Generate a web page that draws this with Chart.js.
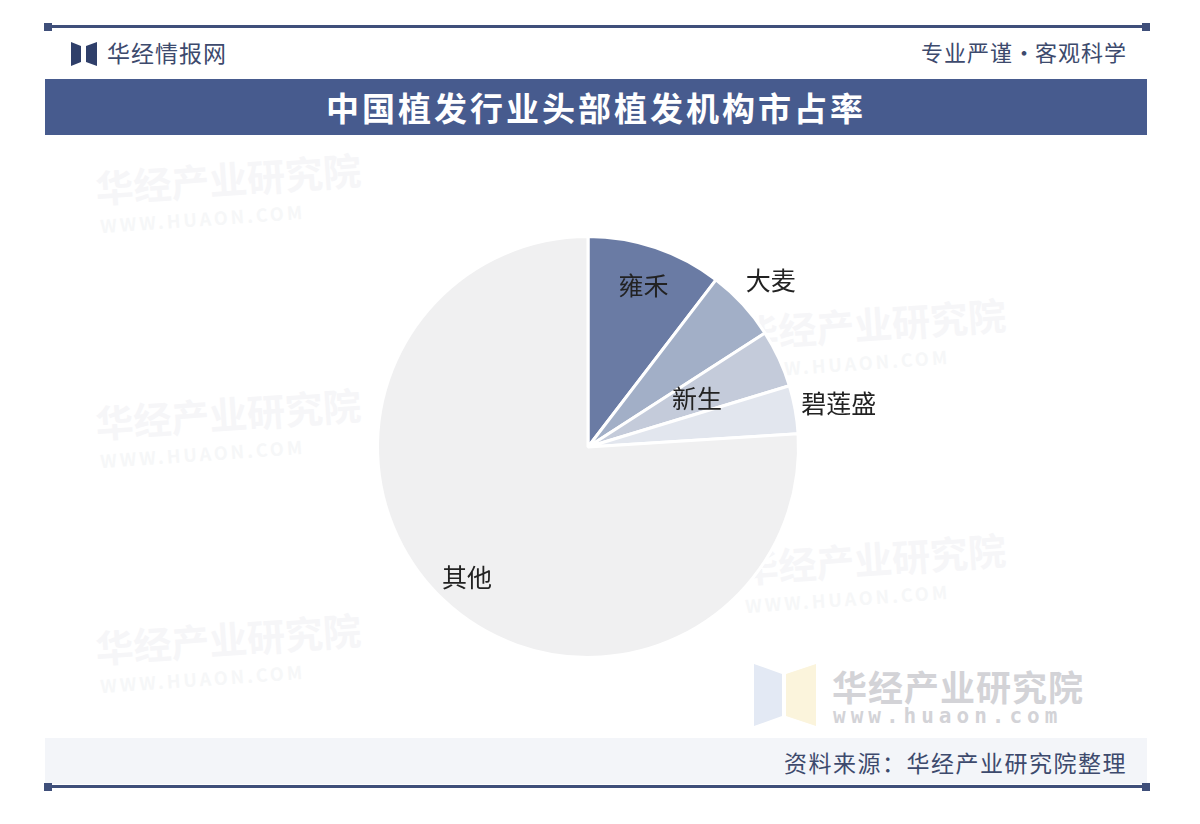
<!DOCTYPE html>
<html><head><meta charset="utf-8">
<script src="https://cdn.jsdelivr.net/npm/chart.js@4.4.1/dist/chart.umd.min.js"></script>
<style>
html,body{margin:0;padding:0;background:#fff;}
body{width:1200px;height:824px;position:relative;overflow:hidden;font-family:"Noto Sans CJK SC","Noto Sans",sans-serif;}
.abs{position:absolute;}
.line{position:absolute;left:47px;width:1100px;height:3px;background:#3f4f7a;}
.sq{position:absolute;width:8px;height:8px;background:#3f4f7a;}
.wm{position:absolute;color:#f6f6f8;font-weight:700;font-size:38px;transform:rotate(-4deg);white-space:nowrap;}
.wm2{position:absolute;color:#f6f7f8;font-weight:700;font-size:18px;letter-spacing:3px;transform:rotate(-4deg);white-space:nowrap;}
</style></head>
<body>
<div class="line" style="top:25px"></div>
<div class="sq" style="left:44px;top:23px"></div><div class="sq" style="left:1142px;top:23px"></div>
<svg class="abs" style="left:71px;top:42px" width="26" height="24" viewBox="0 0 26 24">
<polygon points="0,0 10,4 10,20 0,24" fill="#2f3f6a"/><polygon points="26,0 15,4 15,20 26,24" fill="#2f3f6a"/></svg>
<div class="abs" style="left:107px;top:35px;font-size:23px;color:#3d4a6d;letter-spacing:1px;">华经情报网</div>
<div class="abs" style="right:73px;top:35px;font-size:22px;color:#3d4a6d;letter-spacing:1px;">专业严谨<span style="letter-spacing:0">•</span>客观科学</div>
<div class="abs" style="left:45px;top:79px;width:1102px;height:56px;background:#475b8e;"></div>
<div class="abs" style="left:45px;top:79px;width:1102px;height:56px;line-height:56px;text-align:center;color:#fff;font-size:33px;font-weight:700;letter-spacing:3px;">中国植发行业头部植发机构市占率</div>

<div class="wm" style="left:95px;top:150px">华经产业研究院</div>
<div class="wm2" style="left:100px;top:205px">WWW.HUAON.COM</div>
<div class="wm" style="left:95px;top:385px">华经产业研究院</div>
<div class="wm2" style="left:100px;top:440px">WWW.HUAON.COM</div>
<div class="wm" style="left:95px;top:610px">华经产业研究院</div>
<div class="wm2" style="left:100px;top:665px">WWW.HUAON.COM</div>
<div class="wm" style="left:740px;top:295px">华经产业研究院</div>
<div class="wm2" style="left:745px;top:350px">WWW.HUAON.COM</div>
<div class="wm" style="left:740px;top:530px">华经产业研究院</div>
<div class="wm2" style="left:745px;top:585px">WWW.HUAON.COM</div>

<svg class="abs" style="left:754px;top:664px" width="62" height="62" viewBox="0 0 62 62">
<polygon points="0,0 28,10 28,52 0,62" fill="#e3e9f4"/><polygon points="62,0 32,10 32,52 62,62" fill="#fbf4dc"/></svg>
<div class="abs" style="left:832px;top:660px;font-size:35px;font-weight:700;color:#d3d3d7;letter-spacing:1px;">华经产业研究院</div>
<div class="abs" style="left:833px;top:704px;font-size:21px;font-weight:700;color:#d3d3d7;letter-spacing:5px;font-family:'DejaVu Sans Mono',monospace;">www.huaon.com</div>

<div class="abs" style="left:45px;top:738px;width:1102px;height:46px;background:#f3f5f9;"></div>
<div class="abs" style="right:73px;top:745px;font-size:23px;color:#3d4a6d;letter-spacing:1.5px;">资料来源：华经产业研究院整理</div>
<div class="line" style="top:785px"></div>
<div class="sq" style="left:44px;top:783px"></div><div class="sq" style="left:1142px;top:783px"></div>

<canvas id="c" class="abs" style="left:0;top:0" width="1200" height="824"></canvas>
<script>
const categories = ["雍禾", "大麦", "新生", "碧莲盛", "其他"];
const shares = [10.4, 5.5, 4.4, 3.7, 76.0];
const sliceColors = ["#6a7ba4", "#a2afc7", "#c4cbda", "#e2e6ee", "#f0f0f1"];
const labelRadius = [0.82, 1.18, 0.57, 1.21, 0.84];

const labelPlugin = {
  id: "sliceLabels",
  afterDatasetsDraw(chart) {
    const ctx = chart.ctx;
    const meta = chart.getDatasetMeta(0);
    ctx.save();
    ctx.font = '25px "Noto Sans CJK SC", sans-serif';
    ctx.fillStyle = "#222";
    ctx.textAlign = "center";
    ctx.textBaseline = "middle";
    meta.data.forEach((arc, i) => {
      const p = arc.getProps(["x","y","startAngle","endAngle","outerRadius"], true);
      const mid = (p.startAngle + p.endAngle) / 2;
      const r = p.outerRadius * labelRadius[i];
      ctx.fillText(categories[i], p.x + Math.cos(mid) * r, p.y + Math.sin(mid) * r + 2);
    });
    ctx.restore();
  }
};

new Chart(document.getElementById("c"), {
  type: "pie",
  data: { labels: categories, datasets: [{ data: shares, backgroundColor: sliceColors, borderColor: "#ffffff", borderWidth: 3 }] },
  options: {
    responsive: false, animation: false,
    layout: { padding: { left: 376, right: 400, top: 235, bottom: 165 } },
    plugins: { legend: { display: false }, tooltip: { enabled: false } }
  },
  plugins: [labelPlugin]
});
</script>
</body></html>
